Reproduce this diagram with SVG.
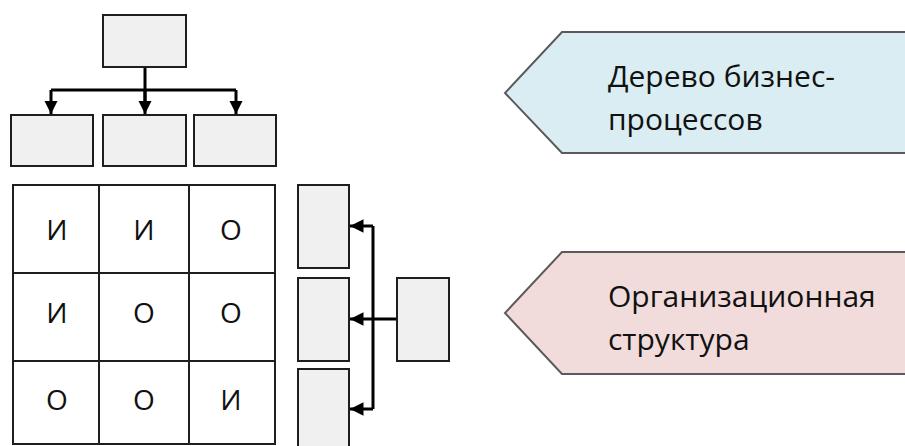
<svg xmlns="http://www.w3.org/2000/svg" width="905" height="446" viewBox="0 0 905 446">
<style>
.box{fill:#f0f0f0;stroke:#1e1e1e;stroke-width:2}
.cell{fill:#ffffff;stroke:#1e1e1e;stroke-width:2}
.ltr{font-family:"Open Sans","Liberation Sans",sans-serif;font-size:28px;fill:#111;text-anchor:middle}
.conn{fill:none;stroke:#000;stroke-width:3}
.lbl{font-family:"Open Sans","Liberation Sans",sans-serif;font-size:30px;fill:#111}
.tag{stroke:#5a5a5a;stroke-width:2}
</style>
<defs>
<marker id="ah" viewBox="0 0 10 10" refX="10" refY="5" markerWidth="4.5" markerHeight="4.5" orient="auto" markerUnits="strokeWidth">
<path d="M0,0 L10,5 L0,10 z" fill="#000"/>
</marker>
</defs>
<rect width="905" height="446" fill="#fff"/>
<g id="connectors">
<path class="conn" d="M145,67 V101"/>
<path class="conn" d="M51,90 H236"/>
<path class="conn" d="M51,90 V114" marker-end="url(#ah)"/>
<path class="conn" d="M145,90 V114" marker-end="url(#ah)"/>
<path class="conn" d="M236,90 V114" marker-end="url(#ah)"/>
<path class="conn" d="M373,226 V409"/>
<path class="conn" d="M373,226 H350" marker-end="url(#ah)"/>
<path class="conn" d="M397,319 H350" marker-end="url(#ah)"/>
<path class="conn" d="M373,409 H350" marker-end="url(#ah)"/>
</g>
<g id="tree-root"><rect class="box" x="103" y="15" width="83" height="52"/></g>
<g id="tree-child-1"><rect class="box" x="11" y="115" width="82" height="51"/></g>
<g id="tree-child-2"><rect class="box" x="103" y="115" width="83" height="51"/></g>
<g id="tree-child-3"><rect class="box" x="194" y="115" width="82" height="51"/></g>
<g id="matrix">
<rect class="cell" x="13" y="185" width="86" height="88"/>
<rect class="cell" x="99" y="185" width="90" height="88"/>
<rect class="cell" x="189" y="185" width="86" height="88"/>
<rect class="cell" x="13" y="273" width="86" height="88"/>
<rect class="cell" x="99" y="273" width="90" height="88"/>
<rect class="cell" x="189" y="273" width="86" height="88"/>
<rect class="cell" x="13" y="361" width="86" height="83"/>
<rect class="cell" x="99" y="361" width="90" height="83"/>
<rect class="cell" x="189" y="361" width="86" height="83"/>
<text class="ltr" x="57" y="240">И</text>
<text class="ltr" x="144" y="240">И</text>
<text class="ltr" x="231" y="240">О</text>
<text class="ltr" x="57" y="323">И</text>
<text class="ltr" x="144" y="323">О</text>
<text class="ltr" x="231" y="323">О</text>
<text class="ltr" x="57" y="410">О</text>
<text class="ltr" x="144" y="410">О</text>
<text class="ltr" x="231" y="410">И</text>
</g>
<g id="org-child-1"><rect class="box" x="298" y="185" width="51" height="83"/></g>
<g id="org-child-2"><rect class="box" x="298" y="278" width="51" height="83"/></g>
<g id="org-child-3"><rect class="box" x="298" y="369" width="51" height="90"/></g>
<g id="org-root"><rect class="box" x="397" y="278" width="52" height="83"/></g>
<g id="label-tree">
<path class="tag" fill="#daedf3" d="M910,32 H562 L505,93 L562,153 H910 z"/>
<text class="lbl" x="608" y="87">Дерево бизнес-</text>
<text class="lbl" x="608" y="130">процессов</text>
</g>
<g id="label-org">
<path class="tag" fill="#f2dcdb" d="M910,252 H562 L505,313 L562,374 H910 z"/>
<text class="lbl" x="608" y="307">Организационная</text>
<text class="lbl" x="608" y="350">структура</text>
</g>
</svg>
